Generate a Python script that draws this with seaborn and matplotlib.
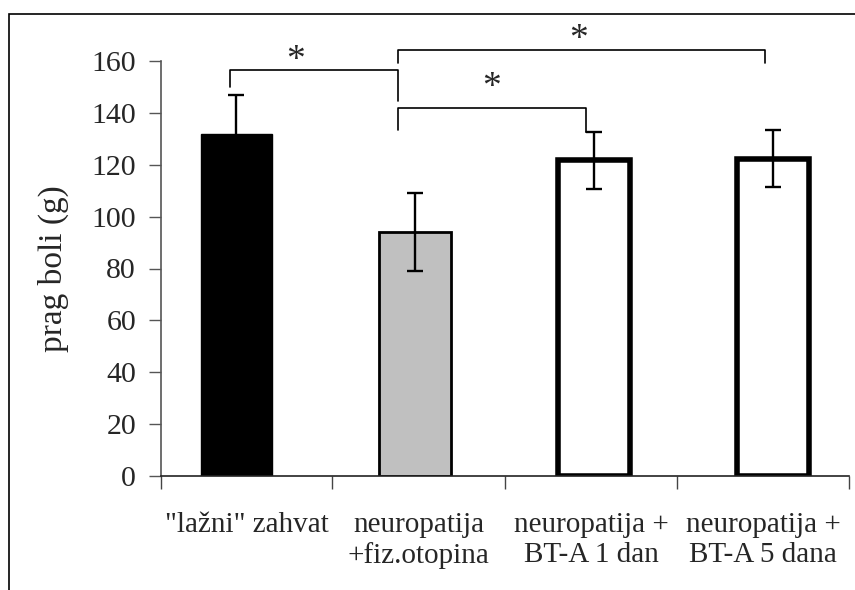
import matplotlib
matplotlib.use("Agg")
import matplotlib.pyplot as plt
import numpy as np
import pandas as pd
import seaborn as sns
from matplotlib.patches import Rectangle

# data
groups = ['"lažni" zahvat', 'neuropatija\n+fiz.otopina',
          'neuropatija +\nBT-A 1 dan', 'neuropatija +\nBT-A 5 dana']
means = [132, 94, 121.7, 122.4]
errs = [15, 15, 11, 11]
fills = ['#000000', '#C0C0C0', '#FFFFFF', '#FFFFFF']
edge_widths = [1.0, 2.0, 4.0, 4.0]

# significance brackets: (x_left, x_right, y_top, y_left_end, y_right_end, star_x, star_y)
brackets = [
    (-0.036, 0.903, 156.5, 150.0, 144.7, 0.333, 160.0),
    (0.903, 2.956, 164.2, 159.2, 159.2, 1.915, 168.0),
    (0.903, 1.954, 142.0, 133.4, 132.6, 1.429, 149.5),
]

# category boundaries and label positions (bars are not spaced like the ticks)
x_bounds = [-0.422, 0.534, 1.502, 2.464, 3.426]
label_pos = [(a + b) / 2 for a, b in zip(x_bounds[:-1], x_bounds[1:])]

sns.set_style("white")
plt.rcParams['font.family'] = ['Liberation Serif', 'DejaVu Serif']
plt.rcParams['font.size'] = 21

df = pd.DataFrame({'group': groups, 'value': means})

fig = plt.figure(figsize=(8.55, 5.9), dpi=100)
ax = fig.add_axes([161 / 855, 1 - 476 / 590, (849 - 161) / 855, (476 - 61) / 590])

sns.barplot(data=df, x='group', y='value', hue='group', palette=fills,
            legend=False, width=0.40, errorbar=None, ax=ax, saturation=1)

for patch, lw in zip(ax.patches, edge_widths):
    patch.set_edgecolor('black')
    patch.set_linewidth(lw)

ax.errorbar(np.arange(len(groups)), means, yerr=errs, fmt='none',
            ecolor='black', elinewidth=1.7, capsize=6, capthick=1.7, zorder=5)

# brackets
for xl, xr, yt, yl, yr, sx, sy in brackets:
    ax.plot([xl, xl, xr, xr], [yl, yt, yt, yr], color='black', lw=1.2,
            clip_on=False, zorder=6)
    ax.text(sx, sy, '*', ha='center', va='center', fontsize=27, clip_on=False)
# little step of the middle bracket onto the cap of the third bar
ax.plot([1.954, 1.997], [132.6, 132.6], color='black', lw=1.2, clip_on=False)

ax.set_xlim(x_bounds[0], x_bounds[-1])
ax.set_ylim(0, 160)
ax.set_yticks(np.arange(0, 161, 20))
ax.set_xticks(x_bounds)
ax.set_xticklabels([])
ax.set_xticks(label_pos, minor=True)
ax.set_xticklabels(groups, minor=True, linespacing=1.2)
ax.tick_params(axis='x', which='major', length=9, width=1, color='#444444',
               direction='out', bottom=True)
ax.tick_params(axis='x', which='minor', length=0, pad=26, labelsize=21)
ax.tick_params(axis='y', length=9, width=1, color='#555555', direction='out',
               left=True, pad=9, labelsize=21.5)

ax.set_xlabel('')
ax.set_ylabel('prag boli (g)', fontsize=24, labelpad=16)

for side in ['top', 'right']:
    ax.spines[side].set_visible(False)
ax.spines['left'].set_color('#555555')
ax.spines['bottom'].set_color('#222222')
ax.spines['left'].set_linewidth(1.2)
ax.spines['bottom'].set_linewidth(1.2)

# outer frame (left and top visible only)
frame = Rectangle((9 / 855, -0.2), 1.2, 0.2 + 1 - 14 / 590, transform=fig.transFigure,
                  fill=False, edgecolor='black', linewidth=1.2)
fig.patches.append(frame)

fig.savefig('out.png', dpi=100)
